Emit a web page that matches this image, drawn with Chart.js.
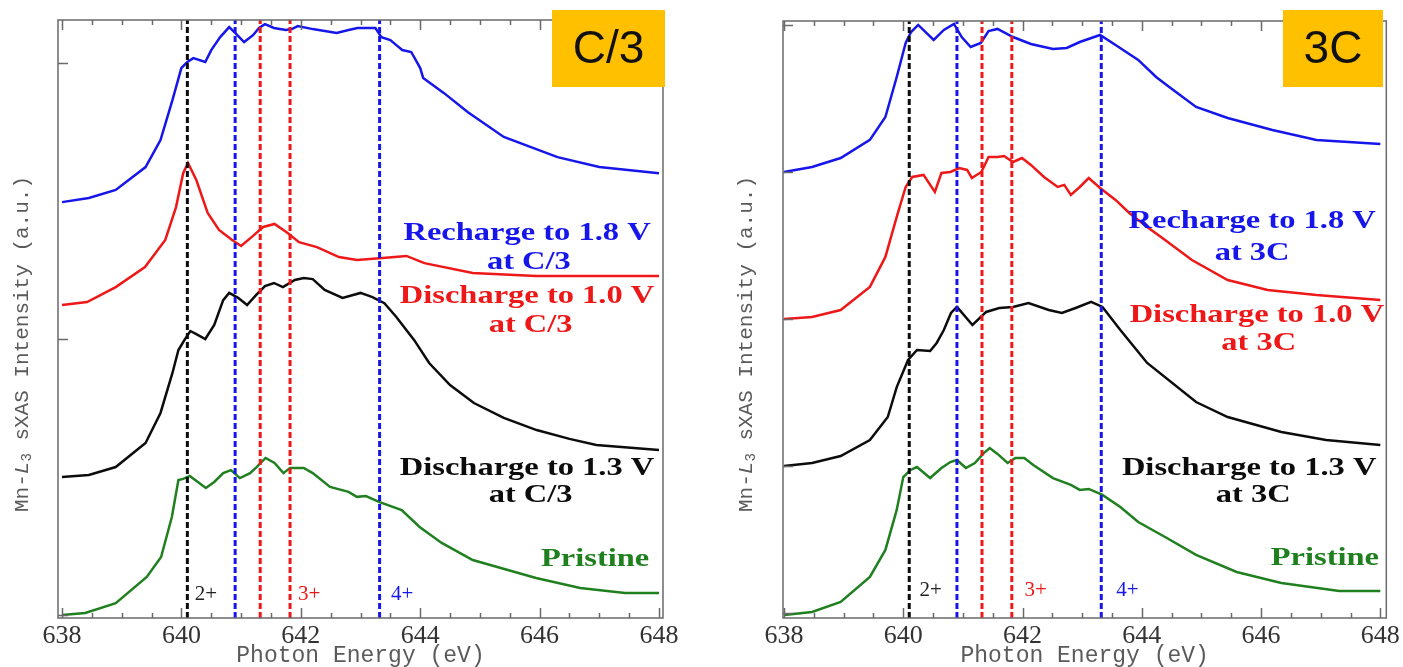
<!DOCTYPE html>
<html>
<head>
<meta charset="utf-8">
<title>Mn-L3 sXAS spectra</title>
<script src="https://cdn.jsdelivr.net/npm/chart.js@4.4.1/dist/chart.umd.min.js"></script>
<style>
  html, body { margin: 0; padding: 0; background: #fff; }
  body { width: 1403px; height: 667px; position: relative; overflow: hidden; }
  .panel { position: absolute; top: 0; height: 667px; }
  #panelSlow { left: 0; width: 700px; }
  #panelFast { left: 700px; width: 703px; }
</style>
</head>
<body>
<div class="panel" id="panelSlow"><canvas id="chartSlow"></canvas></div>
<div class="panel" id="panelFast"><canvas id="chartFast"></canvas></div>
<script>
// photon energy axis (eV)
const energyTicks = [638, 640, 642, 644, 646, 648];

// reference energies for Mn2+, Mn3+ and Mn4+ features
const mn2Lines = [640.1];
const mn3Lines = [641.32, 641.82];
const mn4Lines = [640.9, 643.32];

// ---- C/3 panel (offset intensities, a.u.) ----
const slowRechargeE = [638.0, 638.45, 638.9, 639.4, 639.65, 639.85, 640.0, 640.1, 640.2, 640.4, 640.5, 640.65, 640.8, 640.9, 641.05, 641.2, 641.3, 641.4, 641.55, 641.75, 641.85, 641.95, 642.2, 642.6, 642.8, 642.95, 643.25, 643.35, 643.5, 643.6, 643.7, 643.85, 644.0, 644.05, 644.4, 644.8, 645.4, 646.3, 647.0, 648.0];
const slowRechargeI = [14.96, 15.11, 15.40, 16.23, 17.21, 18.66, 19.82, 20.04, 20.18, 20.04, 20.47, 20.94, 21.30, 21.09, 20.76, 21.01, 21.27, 21.41, 21.27, 21.20, 21.23, 21.34, 21.23, 21.09, 21.20, 21.27, 21.27, 20.94, 20.83, 20.65, 20.47, 20.40, 19.82, 19.46, 18.91, 18.22, 17.32, 16.59, 16.23, 16.01];

const slowDis10E = [638.0, 638.42, 638.9, 639.39, 639.73, 639.91, 640.03, 640.11, 640.25, 640.44, 640.63, 640.85, 641.0, 641.18, 641.37, 641.56, 641.78, 641.97, 642.27, 642.64, 642.94, 643.32, 643.77, 644.07, 644.88, 645.94, 648.0];
const slowDis10I = [11.23, 11.34, 11.88, 12.61, 13.59, 14.78, 16.01, 16.38, 15.76, 14.57, 13.95, 13.59, 13.37, 13.70, 14.06, 14.17, 13.84, 13.51, 13.33, 12.97, 12.86, 12.93, 13.01, 12.75, 12.39, 12.28, 12.28];

const slowDis13E = [638.0, 638.45, 638.9, 639.4, 639.65, 639.85, 639.95, 640.05, 640.15, 640.25, 640.4, 640.55, 640.7, 640.8, 640.95, 641.1, 641.25, 641.4, 641.55, 641.7, 641.9, 642.05, 642.2, 642.4, 642.7, 643.0, 643.2, 643.4, 643.6, 643.9, 644.15, 644.5, 644.9, 645.4, 645.95, 646.5, 646.95, 648.0];
const slowDis13I = [5.00, 5.07, 5.36, 6.23, 7.32, 8.77, 9.60, 9.96, 10.29, 10.18, 10.00, 10.51, 11.41, 11.67, 11.49, 11.23, 11.59, 11.92, 12.03, 11.88, 12.14, 12.21, 12.17, 11.78, 11.49, 11.67, 11.52, 11.30, 10.80, 9.96, 9.13, 8.33, 7.68, 7.14, 6.70, 6.38, 6.16, 5.98];

const slowPristineE = [638.0, 638.39, 638.9, 639.42, 639.66, 639.84, 639.95, 640.03, 640.14, 640.41, 640.55, 640.7, 640.83, 640.98, 641.15, 641.26, 641.41, 641.56, 641.71, 641.82, 642.05, 642.2, 642.49, 642.8, 642.94, 643.09, 643.32, 643.69, 643.99, 644.36, 644.88, 645.94, 646.68, 647.43, 648.0];
const slowPristineI = [0.00, 0.07, 0.43, 1.38, 2.10, 3.55, 4.89, 4.93, 5.04, 4.60, 4.82, 5.14, 5.25, 4.96, 5.14, 5.36, 5.69, 5.51, 5.14, 5.33, 5.33, 5.14, 4.64, 4.46, 4.28, 4.31, 4.09, 3.80, 3.19, 2.61, 1.99, 1.34, 0.98, 0.80, 0.80];

// ---- 3C panel ----
const fastRechargeE = [638.0, 638.47, 638.95, 639.44, 639.7, 639.89, 640.04, 640.13, 640.25, 640.51, 640.68, 640.85, 640.98, 641.13, 641.3, 641.43, 641.58, 641.84, 642.14, 642.51, 642.74, 642.96, 643.3, 643.56, 643.94, 644.24, 644.46, 644.91, 645.44, 646.19, 646.93, 648.0];
const fastRechargeI = [30.00, 30.34, 30.95, 32.18, 33.74, 36.46, 38.78, 39.52, 40.00, 38.98, 39.66, 40.07, 39.18, 38.50, 38.78, 39.59, 39.73, 39.18, 38.71, 38.37, 38.44, 38.84, 39.32, 38.64, 37.62, 36.46, 35.78, 34.42, 33.67, 32.86, 32.18, 31.90];

const fastDis10E = [638.0, 638.47, 638.95, 639.44, 639.7, 639.89, 640.04, 640.15, 640.34, 640.53, 640.64, 640.79, 640.94, 641.07, 641.15, 641.31, 641.43, 641.58, 641.69, 641.84, 641.99, 642.14, 642.36, 642.59, 642.7, 642.81, 642.96, 643.11, 643.3, 643.56, 643.79, 644.09, 644.39, 644.84, 645.44, 646.11, 646.93, 648.0];
const fastDis10I = [20.00, 20.14, 20.61, 22.18, 24.22, 26.94, 28.98, 29.66, 29.80, 28.64, 29.93, 30.00, 30.27, 30.14, 29.59, 30.00, 31.02, 31.02, 31.09, 30.68, 30.95, 30.48, 29.66, 28.98, 29.12, 28.44, 28.98, 29.59, 28.91, 28.10, 27.21, 26.26, 25.37, 24.01, 22.65, 21.97, 21.63, 21.29];

const fastDis13E = [638.0, 638.47, 638.95, 639.44, 639.74, 639.89, 640.08, 640.23, 640.45, 640.56, 640.68, 640.8, 640.9, 641.16, 641.39, 641.61, 641.84, 642.1, 642.44, 642.66, 642.89, 643.15, 643.34, 643.64, 644.09, 644.91, 645.44, 646.34, 647.09, 648.0];
const fastDis13I = [10.00, 10.20, 10.68, 11.77, 13.33, 15.37, 17.21, 17.89, 17.82, 18.37, 19.25, 20.41, 20.82, 19.59, 20.48, 20.75, 20.82, 21.09, 20.61, 20.41, 20.75, 21.16, 20.82, 19.25, 17.01, 14.35, 13.33, 12.31, 11.77, 11.43];

const fastPristineE = [638.0, 638.47, 638.95, 639.44, 639.7, 639.89, 640.0, 640.12, 640.23, 640.45, 640.64, 640.79, 640.9, 641.05, 641.2, 641.35, 641.45, 641.58, 641.75, 641.88, 642.03, 642.18, 642.51, 642.81, 642.96, 643.11, 643.34, 643.64, 643.94, 644.39, 644.91, 645.59, 646.34, 647.31, 648.0];
const fastPristineI = [-0.14, 0.07, 0.75, 2.45, 4.29, 7.01, 9.25, 9.73, 9.93, 9.18, 9.86, 10.27, 10.41, 9.86, 10.20, 10.88, 11.22, 10.82, 10.20, 10.54, 10.54, 10.07, 9.18, 8.71, 8.37, 8.44, 8.03, 7.21, 6.19, 5.17, 3.95, 2.79, 2.04, 1.50, 1.50];

const BLUE = "rgb(22, 22, 235)";
const RED = "rgb(238, 24, 24)";
const BLACK = "rgb(12, 12, 12)";
const GREEN = "rgb(32, 128, 32)";

const SERIF = '"Liberation Serif", "Times New Roman", serif';
const MONO = '"Liberation Mono", "DejaVu Sans Mono", monospace';

function toPoints(xs, ys) {
  return xs.map((e, i) => ({ x: e, y: ys[i] }));
}

function curve(xs, ys, color) {
  return {
    data: toPoints(xs, ys),
    borderColor: color,
    borderWidth: 2.5,
    pointRadius: 0,
    tension: 0,
    order: 1,
  };
}

function markers(energies, color, yMin, yMax) {
  return energies.map((e) => ({
    data: [{ x: e, y: yMin }, { x: e, y: yMax }],
    borderColor: color,
    borderWidth: 3,
    borderDash: [6, 3],
    pointRadius: 0,
    order: 0,
  }));
}

// text, badge and axis-label settings for each panel
const decor = {
  chartSlow: {
    yTicks: [0, 10, 20],
    badge: { text: "C/3", x: 552, y: 10, w: 113, h: 77 },
    yTitle: { x: 22, y: 344 },
    labels: [
      { text: "Recharge to 1.8 V", x: 645.79, y: 13.82, color: BLUE },
      { text: "at C/3", x: 645.82, y: 12.78, color: BLUE },
      { text: "Discharge to 1.0 V", x: 645.79, y: 11.56, color: RED },
      { text: "at C/3", x: 645.85, y: 10.51, color: RED },
      { text: "Discharge to 1.3 V", x: 645.79, y: 5.33, color: BLACK },
      { text: "at C/3", x: 645.85, y: 4.35, color: BLACK },
      { text: "Pristine", x: 646.93, y: 2.03, color: GREEN },
    ],
    states: [
      { text: "2+", x: 640.41, y: 0.76, color: "#222" },
      { text: "3+", x: 642.14, y: 0.76, color: RED },
      { text: "4+", x: 643.7, y: 0.76, color: BLUE },
    ],
  },
  chartFast: {
    yTicks: [0, 10, 20, 30, 40],
    badge: { text: "3C", x: 583, y: 10, w: 100, h: 77 },
    yTitle: { x: 46, y: 344 },
    labels: [
      { text: "Recharge to 1.8 V", x: 645.85, y: 26.67, color: BLUE },
      { text: "at 3C", x: 645.85, y: 24.49, color: BLUE },
      { text: "Discharge to 1.0 V", x: 645.93, y: 20.27, color: RED },
      { text: "at 3C", x: 645.96, y: 18.37, color: RED },
      { text: "Discharge to 1.3 V", x: 645.8, y: 9.86, color: BLACK },
      { text: "at 3C", x: 645.87, y: 8.03, color: BLACK },
      { text: "Pristine", x: 647.07, y: 3.74, color: GREEN },
    ],
    states: [
      { text: "2+", x: 640.46, y: 1.56, color: "#222" },
      { text: "3+", x: 642.22, y: 1.56, color: RED },
      { text: "4+", x: 643.76, y: 1.56, color: BLUE },
    ],
  },
};

function drawYTitle(ctx, cx, cy) {
  const size = 21;
  const parts = [
    { text: "Mn-", font: `${size}px ${MONO}`, dy: 0 },
    { text: "L", font: `italic ${size}px ${MONO}`, dy: 0 },
    { text: "3", font: `${Math.round(size * 0.68)}px ${MONO}`, dy: 5 },
    { text: " sXAS Intensity (a.u.)", font: `${size}px ${MONO}`, dy: 0 },
  ];
  ctx.save();
  ctx.translate(cx, cy);
  ctx.rotate(-Math.PI / 2);
  let total = 0;
  parts.forEach((p) => {
    ctx.font = p.font;
    p.w = ctx.measureText(p.text).width;
    total += p.w;
  });
  let pos = -total / 2;
  ctx.fillStyle = "#5a5a5a";
  ctx.textBaseline = "middle";
  ctx.textAlign = "left";
  parts.forEach((p) => {
    ctx.font = p.font;
    ctx.fillText(p.text, pos, p.dy);
    pos += p.w;
  });
  ctx.restore();
}

const panelDecor = {
  id: "panelDecor",
  afterDatasetsDraw(chart) {
    const d = decor[chart.canvas.id];
    const { ctx, chartArea: a } = chart;
    const x = chart.scales.x;
    const y = chart.scales.y;
    ctx.save();
    ctx.strokeStyle = "#6a6a6a";
    ctx.lineWidth = 1.5;
    ctx.strokeRect(a.left, a.top, a.right - a.left, a.bottom - a.top);

    // inward ticks on bottom, top and left
    ctx.beginPath();
    for (let v = energyTicks[0]; v <= energyTicks[energyTicks.length - 1]; v += 0.5) {
      const px = Math.round(x.getPixelForValue(v)) + 0.5;
      const len = v % 2 === 0 ? 10 : 5;
      ctx.moveTo(px, a.bottom);
      ctx.lineTo(px, a.bottom - len);
      ctx.moveTo(px, a.top);
      ctx.lineTo(px, a.top + len);
    }
    d.yTicks.forEach((v) => {
      const py = Math.round(y.getPixelForValue(v)) + 0.5;
      ctx.moveTo(a.left, py);
      ctx.lineTo(a.left + 10, py);
    });
    ctx.stroke();
    ctx.restore();
  },
  afterDraw(chart) {
    const d = decor[chart.canvas.id];
    const { ctx } = chart;
    const x = chart.scales.x;
    const y = chart.scales.y;
    ctx.save();

    // series labels
    ctx.textAlign = "center";
    ctx.textBaseline = "middle";
    d.labels.forEach((l) => {
      ctx.save();
      ctx.translate(x.getPixelForValue(l.x), y.getPixelForValue(l.y));
      ctx.scale(1.25, 1);
      ctx.font = `bold 26px ${SERIF}`;
      ctx.fillStyle = l.color;
      ctx.fillText(l.text, 0, 0);
      ctx.restore();
    });

    // oxidation state marks
    ctx.font = `21px ${SERIF}`;
    d.states.forEach((s) => {
      ctx.fillStyle = s.color;
      ctx.fillText(s.text, x.getPixelForValue(s.x), y.getPixelForValue(s.y));
    });

    // rate badge
    const b = d.badge;
    ctx.fillStyle = "#ffc000";
    ctx.fillRect(b.x, b.y, b.w, b.h);
    ctx.fillStyle = "#111";
    ctx.font = `46px "Liberation Sans", Arial, sans-serif`;
    ctx.fillText(b.text, b.x + b.w / 2, b.y + b.h / 2 + 2);

    drawYTitle(ctx, d.yTitle.x, d.yTitle.y);
    ctx.restore();
  },
};

function makePanel(id, cfg) {
  const datasets = [
    ...markers(mn2Lines, BLACK, cfg.yMin, cfg.yMax),
    ...markers(mn4Lines, BLUE, cfg.yMin, cfg.yMax),
    ...markers(mn3Lines, RED, cfg.yMin, cfg.yMax),
    curve(cfg.recharge[0], cfg.recharge[1], BLUE),
    curve(cfg.dis10[0], cfg.dis10[1], RED),
    curve(cfg.dis13[0], cfg.dis13[1], BLACK),
    curve(cfg.pristine[0], cfg.pristine[1], GREEN),
  ];

  return new Chart(document.getElementById(id), {
    type: "line",
    data: { datasets },
    plugins: [panelDecor],
    options: {
      responsive: true,
      maintainAspectRatio: false,
      animation: false,
      events: [],
      layout: { padding: cfg.padding },
      plugins: { legend: { display: false }, tooltip: { enabled: false } },
      scales: {
        x: {
          type: "linear",
          min: cfg.xMin,
          max: cfg.xMax,
          afterBuildTicks: (s) => {
            s.ticks = energyTicks.map((v) => ({ value: v }));
          },
          afterFit: (s) => {
            s.height = 49;
          },
          grid: { display: false, drawTicks: false },
          border: { display: false },
          ticks: {
            autoSkip: false,
            maxRotation: 0,
            padding: 3,
            color: "#333",
            font: { family: SERIF, size: 26 },
          },
          title: {
            display: true,
            text: "Photon Energy (eV)",
            color: "#5a5a5a",
            font: { family: MONO, size: 23, lineHeight: 1 },
            padding: { top: 0, bottom: 0 },
          },
        },
        y: {
          type: "linear",
          min: cfg.yMin,
          max: cfg.yMax,
          afterFit: (s) => {
            s.width = 58;
          },
          grid: { display: false, drawTicks: false },
          border: { display: false },
          ticks: { display: false },
        },
      },
    },
  });
}

makePanel("chartSlow", {
  xMin: 637.933,
  xMax: 648.067,
  yMin: -0.11,
  yMax: 21.56,
  padding: { left: 0, right: 37, top: 20, bottom: 0 },
  recharge: [slowRechargeE, slowRechargeI],
  dis10: [slowDis10E, slowDis10I],
  dis13: [slowDis13E, slowDis13I],
  pristine: [slowPristineE, slowPristineI],
});

makePanel("chartFast", {
  xMin: 637.983,
  xMax: 648.1,
  yMin: -0.34,
  yMax: 40.27,
  padding: { left: 25, right: 16, top: 21, bottom: 0 },
  recharge: [fastRechargeE, fastRechargeI],
  dis10: [fastDis10E, fastDis10I],
  dis13: [fastDis13E, fastDis13I],
  pristine: [fastPristineE, fastPristineI],
});
</script>
</body>
</html>
